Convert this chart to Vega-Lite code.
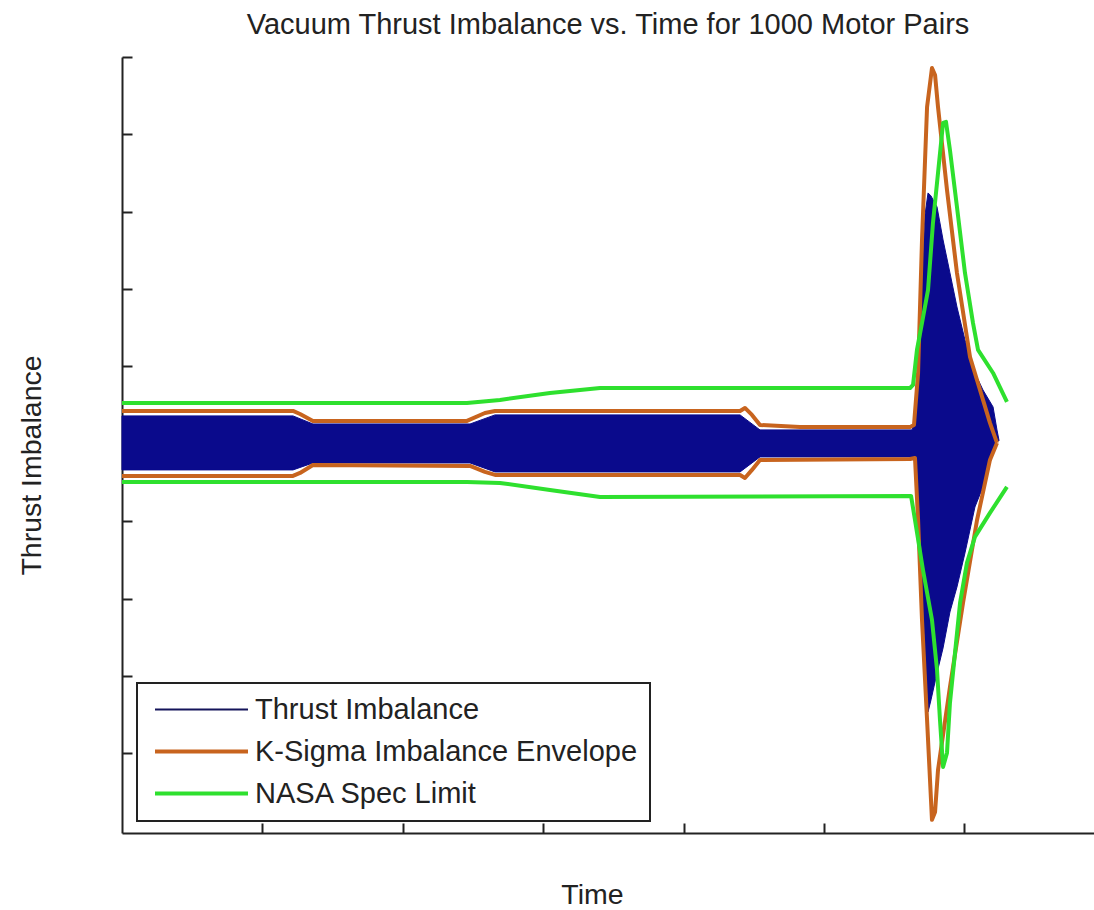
{
  "$schema": "https://vega.github.io/schema/vega-lite/v6.json",
  "width": 972,
  "height": 776,
  "autosize": {"type": "none"},
  "padding": {"left": 122, "top": 57, "right": 0, "bottom": 77},
  "background": "white",
  "title": {
    "text": "Vacuum Thrust Imbalance vs. Time for 1000 Motor Pairs",
    "anchor": "middle",
    "frame": "group",
    "font": "Liberation Sans",
    "fontSize": 29,
    "fontWeight": "normal",
    "color": "#222222",
    "baseline": "alphabetic",
    "offset": -7
  },
  "config": {
    "view": {"stroke": null},
    "axis": {
      "labels": false,
      "grid": false,
      "domainColor": "#222222",
      "domainWidth": 2,
      "tickColor": "#222222",
      "tickWidth": 2,
      "tickSize": -10,
      "titleFont": "Liberation Sans",
      "titleFontSize": 28.5,
      "titleFontWeight": "normal",
      "titleColor": "#222222"
    }
  },
  "datasets": {
    "band": [
      {"t": 0, "hi": 0.361, "lo": -0.337},
      {"t": 1.218, "hi": 0.361, "lo": -0.337},
      {"t": 1.36, "hi": 0.257, "lo": -0.247},
      {"t": 2.479, "hi": 0.257, "lo": -0.247},
      {"t": 2.657, "hi": 0.374, "lo": -0.363},
      {"t": 4.402, "hi": 0.374, "lo": -0.363},
      {"t": 4.544, "hi": 0.18, "lo": -0.169},
      {"t": 5.627, "hi": 0.18, "lo": -0.169},
      {"t": 5.648, "hi": 0.335, "lo": -0.234},
      {"t": 5.662, "hi": 0.567, "lo": -0.337},
      {"t": 5.684, "hi": 1.601, "lo": -1.41},
      {"t": 5.698, "hi": 2.209, "lo": -1.888},
      {"t": 5.719, "hi": 2.958, "lo": -2.703},
      {"t": 5.741, "hi": 3.243, "lo": -3.465},
      {"t": 5.762, "hi": 3.204, "lo": -3.31},
      {"t": 5.805, "hi": 3.062, "lo": -2.961},
      {"t": 5.848, "hi": 2.635, "lo": -2.638},
      {"t": 5.897, "hi": 2.209, "lo": -2.173},
      {"t": 5.947, "hi": 1.769, "lo": -1.85},
      {"t": 6.004, "hi": 1.343, "lo": -1.41},
      {"t": 6.075, "hi": 0.916, "lo": -0.816},
      {"t": 6.132, "hi": 0.697, "lo": -0.557},
      {"t": 6.204, "hi": 0.477, "lo": -0.118},
      {"t": 6.232, "hi": 0.18, "lo": 0.05},
      {"t": 6.246, "hi": 0.05, "lo": 0.037}
    ],
    "lines": [
      {"series": "K-Sigma Imbalance Envelope", "side": "upper", "t": 0, "v": 0.425},
      {"series": "K-Sigma Imbalance Envelope", "side": "upper", "t": 1.218, "v": 0.425},
      {"series": "K-Sigma Imbalance Envelope", "side": "upper", "t": 1.268, "v": 0.386},
      {"series": "K-Sigma Imbalance Envelope", "side": "upper", "t": 1.36, "v": 0.296},
      {"series": "K-Sigma Imbalance Envelope", "side": "upper", "t": 2.457, "v": 0.296},
      {"series": "K-Sigma Imbalance Envelope", "side": "upper", "t": 2.585, "v": 0.399},
      {"series": "K-Sigma Imbalance Envelope", "side": "upper", "t": 2.657, "v": 0.425},
      {"series": "K-Sigma Imbalance Envelope", "side": "upper", "t": 4.402, "v": 0.425},
      {"series": "K-Sigma Imbalance Envelope", "side": "upper", "t": 4.437, "v": 0.464},
      {"series": "K-Sigma Imbalance Envelope", "side": "upper", "t": 4.487, "v": 0.374},
      {"series": "K-Sigma Imbalance Envelope", "side": "upper", "t": 4.544, "v": 0.244},
      {"series": "K-Sigma Imbalance Envelope", "side": "upper", "t": 4.829, "v": 0.218},
      {"series": "K-Sigma Imbalance Envelope", "side": "upper", "t": 5.613, "v": 0.218},
      {"series": "K-Sigma Imbalance Envelope", "side": "upper", "t": 5.641, "v": 0.244},
      {"series": "K-Sigma Imbalance Envelope", "side": "upper", "t": 5.67, "v": 0.916},
      {"series": "K-Sigma Imbalance Envelope", "side": "upper", "t": 5.698, "v": 2.635},
      {"series": "K-Sigma Imbalance Envelope", "side": "upper", "t": 5.734, "v": 4.354},
      {"series": "K-Sigma Imbalance Envelope", "side": "upper", "t": 5.769, "v": 4.858},
      {"series": "K-Sigma Imbalance Envelope", "side": "upper", "t": 5.791, "v": 4.768},
      {"series": "K-Sigma Imbalance Envelope", "side": "upper", "t": 5.812, "v": 4.354},
      {"series": "K-Sigma Imbalance Envelope", "side": "upper", "t": 5.876, "v": 3.282},
      {"series": "K-Sigma Imbalance Envelope", "side": "upper", "t": 5.947, "v": 2.209},
      {"series": "K-Sigma Imbalance Envelope", "side": "upper", "t": 6.04, "v": 1.123},
      {"series": "K-Sigma Imbalance Envelope", "side": "upper", "t": 6.182, "v": 0.27},
      {"series": "K-Sigma Imbalance Envelope", "side": "upper", "t": 6.232, "v": 0.012},
      {"series": "K-Sigma Imbalance Envelope", "side": "lower", "t": 0, "v": -0.415},
      {"series": "K-Sigma Imbalance Envelope", "side": "lower", "t": 1.218, "v": -0.415},
      {"series": "K-Sigma Imbalance Envelope", "side": "lower", "t": 1.268, "v": -0.376},
      {"series": "K-Sigma Imbalance Envelope", "side": "lower", "t": 1.36, "v": -0.273},
      {"series": "K-Sigma Imbalance Envelope", "side": "lower", "t": 2.479, "v": -0.286},
      {"series": "K-Sigma Imbalance Envelope", "side": "lower", "t": 2.585, "v": -0.363},
      {"series": "K-Sigma Imbalance Envelope", "side": "lower", "t": 2.657, "v": -0.402},
      {"series": "K-Sigma Imbalance Envelope", "side": "lower", "t": 4.402, "v": -0.402},
      {"series": "K-Sigma Imbalance Envelope", "side": "lower", "t": 4.437, "v": -0.441},
      {"series": "K-Sigma Imbalance Envelope", "side": "lower", "t": 4.487, "v": -0.337},
      {"series": "K-Sigma Imbalance Envelope", "side": "lower", "t": 4.544, "v": -0.208},
      {"series": "K-Sigma Imbalance Envelope", "side": "lower", "t": 5.613, "v": -0.195},
      {"series": "K-Sigma Imbalance Envelope", "side": "lower", "t": 5.648, "v": -0.182},
      {"series": "K-Sigma Imbalance Envelope", "side": "lower", "t": 5.67, "v": -0.984},
      {"series": "K-Sigma Imbalance Envelope", "side": "lower", "t": 5.698, "v": -2.276},
      {"series": "K-Sigma Imbalance Envelope", "side": "lower", "t": 5.734, "v": -3.569},
      {"series": "K-Sigma Imbalance Envelope", "side": "lower", "t": 5.769, "v": -4.86},
      {"series": "K-Sigma Imbalance Envelope", "side": "lower", "t": 5.791, "v": -4.758},
      {"series": "K-Sigma Imbalance Envelope", "side": "lower", "t": 5.812, "v": -4.215},
      {"series": "K-Sigma Imbalance Envelope", "side": "lower", "t": 5.897, "v": -3.142},
      {"series": "K-Sigma Imbalance Envelope", "side": "lower", "t": 5.99, "v": -2.056},
      {"series": "K-Sigma Imbalance Envelope", "side": "lower", "t": 6.09, "v": -0.984},
      {"series": "K-Sigma Imbalance Envelope", "side": "lower", "t": 6.182, "v": -0.208},
      {"series": "K-Sigma Imbalance Envelope", "side": "lower", "t": 6.232, "v": 0.012},
      {"series": "NASA Spec Limit", "side": "upper", "t": 0, "v": 0.529},
      {"series": "NASA Spec Limit", "side": "upper", "t": 2.457, "v": 0.529},
      {"series": "NASA Spec Limit", "side": "upper", "t": 2.692, "v": 0.567},
      {"series": "NASA Spec Limit", "side": "upper", "t": 3.048, "v": 0.658},
      {"series": "NASA Spec Limit", "side": "upper", "t": 3.405, "v": 0.722},
      {"series": "NASA Spec Limit", "side": "upper", "t": 5.613, "v": 0.722},
      {"series": "NASA Spec Limit", "side": "upper", "t": 5.634, "v": 0.761},
      {"series": "NASA Spec Limit", "side": "upper", "t": 5.662, "v": 1.214},
      {"series": "NASA Spec Limit", "side": "upper", "t": 5.698, "v": 1.563},
      {"series": "NASA Spec Limit", "side": "upper", "t": 5.741, "v": 1.989},
      {"series": "NASA Spec Limit", "side": "upper", "t": 5.776, "v": 2.855},
      {"series": "NASA Spec Limit", "side": "upper", "t": 5.812, "v": 3.501},
      {"series": "NASA Spec Limit", "side": "upper", "t": 5.848, "v": 4.148},
      {"series": "NASA Spec Limit", "side": "upper", "t": 5.869, "v": 4.161},
      {"series": "NASA Spec Limit", "side": "upper", "t": 5.897, "v": 3.799},
      {"series": "NASA Spec Limit", "side": "upper", "t": 5.947, "v": 3.062},
      {"series": "NASA Spec Limit", "side": "upper", "t": 6.004, "v": 2.209},
      {"series": "NASA Spec Limit", "side": "upper", "t": 6.061, "v": 1.563},
      {"series": "NASA Spec Limit", "side": "upper", "t": 6.097, "v": 1.214},
      {"series": "NASA Spec Limit", "side": "upper", "t": 6.204, "v": 0.916},
      {"series": "NASA Spec Limit", "side": "upper", "t": 6.303, "v": 0.542},
      {"series": "NASA Spec Limit", "side": "lower", "t": 0, "v": -0.492},
      {"series": "NASA Spec Limit", "side": "lower", "t": 2.457, "v": -0.492},
      {"series": "NASA Spec Limit", "side": "lower", "t": 2.692, "v": -0.505},
      {"series": "NASA Spec Limit", "side": "lower", "t": 3.048, "v": -0.596},
      {"series": "NASA Spec Limit", "side": "lower", "t": 3.405, "v": -0.686},
      {"series": "NASA Spec Limit", "side": "lower", "t": 5.62, "v": -0.673},
      {"series": "NASA Spec Limit", "side": "lower", "t": 5.648, "v": -0.984},
      {"series": "NASA Spec Limit", "side": "lower", "t": 5.705, "v": -1.63},
      {"series": "NASA Spec Limit", "side": "lower", "t": 5.769, "v": -2.276},
      {"series": "NASA Spec Limit", "side": "lower", "t": 5.805, "v": -2.922},
      {"series": "NASA Spec Limit", "side": "lower", "t": 5.826, "v": -3.569},
      {"series": "NASA Spec Limit", "side": "lower", "t": 5.848, "v": -4.176},
      {"series": "NASA Spec Limit", "side": "lower", "t": 5.876, "v": -3.995},
      {"series": "NASA Spec Limit", "side": "lower", "t": 5.897, "v": -3.349},
      {"series": "NASA Spec Limit", "side": "lower", "t": 5.933, "v": -2.703},
      {"series": "NASA Spec Limit", "side": "lower", "t": 5.969, "v": -2.056},
      {"series": "NASA Spec Limit", "side": "lower", "t": 6.018, "v": -1.539},
      {"series": "NASA Spec Limit", "side": "lower", "t": 6.075, "v": -1.203},
      {"series": "NASA Spec Limit", "side": "lower", "t": 6.182, "v": -0.893},
      {"series": "NASA Spec Limit", "side": "lower", "t": 6.303, "v": -0.557}
    ]
  },
  "layer": [
    {
      "data": {"name": "band"},
      "mark": {"type": "area", "color": "#0A0A8C", "stroke": "#0A0A8C", "strokeWidth": 1},
      "encoding": {
        "x": {"field": "t", "type": "quantitative", "scale": {"domain": [0, 6.923], "nice": false, "zero": false},
              "axis": {"title": "Time", "values": [1, 2, 3, 4, 5, 6], "titleX": 470, "titleY": 70, "titleBaseline": "alphabetic", "titleAlign": "center"}},
        "y": {"field": "hi", "type": "quantitative", "scale": {"domain": [-5.03, 5], "nice": false, "zero": false},
              "axis": {"title": "Thrust Imbalance", "values": [-4, -3, -2, -1, 0, 1, 2, 3, 4, 5], "titleX": -82, "titleY": 408, "titleAngle": -90, "titleBaseline": "alphabetic", "titleAlign": "center"}},
        "y2": {"field": "lo"}
      }
    },
    {
      "data": {"name": "lines"},
      "transform": [{"filter": "datum.series === 'K-Sigma Imbalance Envelope'"}],
      "mark": {"type": "line", "strokeWidth": 4, "strokeJoin": "round"},
      "encoding": {
        "x": {"field": "t", "type": "quantitative"},
        "y": {"field": "v", "type": "quantitative"},
        "detail": {"field": "side"},
        "color": {
          "field": "series",
          "type": "nominal",
          "scale": {"domain": ["Thrust Imbalance", "K-Sigma Imbalance Envelope", "NASA Spec Limit"], "range": ["#14145A", "#C8641E", "#2EE02E"]},
          "legend": {
            "title": null,
            "orient": "none",
            "legendX": 15,
            "legendY": 626,
            "padding": 12,
            "fillColor": "white",
            "strokeColor": "#222222",
            "symbolType": "M-3.875,0H3.875",
            "symbolSize": 576,
            "symbolStrokeWidth": 4,
            "labelFont": "Liberation Sans",
            "labelFontSize": 29,
            "labelColor": "#222222",
            "labelOffset": 39,
            "symbolOffset": 38,
            "rowPadding": 12,
            "labelLimit": 1000,
            "encode": {
              "symbols": {"update": {"strokeWidth": {"signal": "datum.value === 'Thrust Imbalance' ? 2 : 4"}}},
              "legend": {"update": {"strokeWidth": {"value": 2}}}
            }
          }
        }
      }
    },
    {
      "data": {"name": "lines"},
      "transform": [{"filter": "datum.series === 'NASA Spec Limit'"}],
      "mark": {"type": "line", "strokeWidth": 4, "strokeJoin": "round"},
      "encoding": {
        "x": {"field": "t", "type": "quantitative"},
        "y": {"field": "v", "type": "quantitative"},
        "detail": {"field": "side"},
        "color": {"field": "series", "type": "nominal"}
      }
    }
  ]
}
